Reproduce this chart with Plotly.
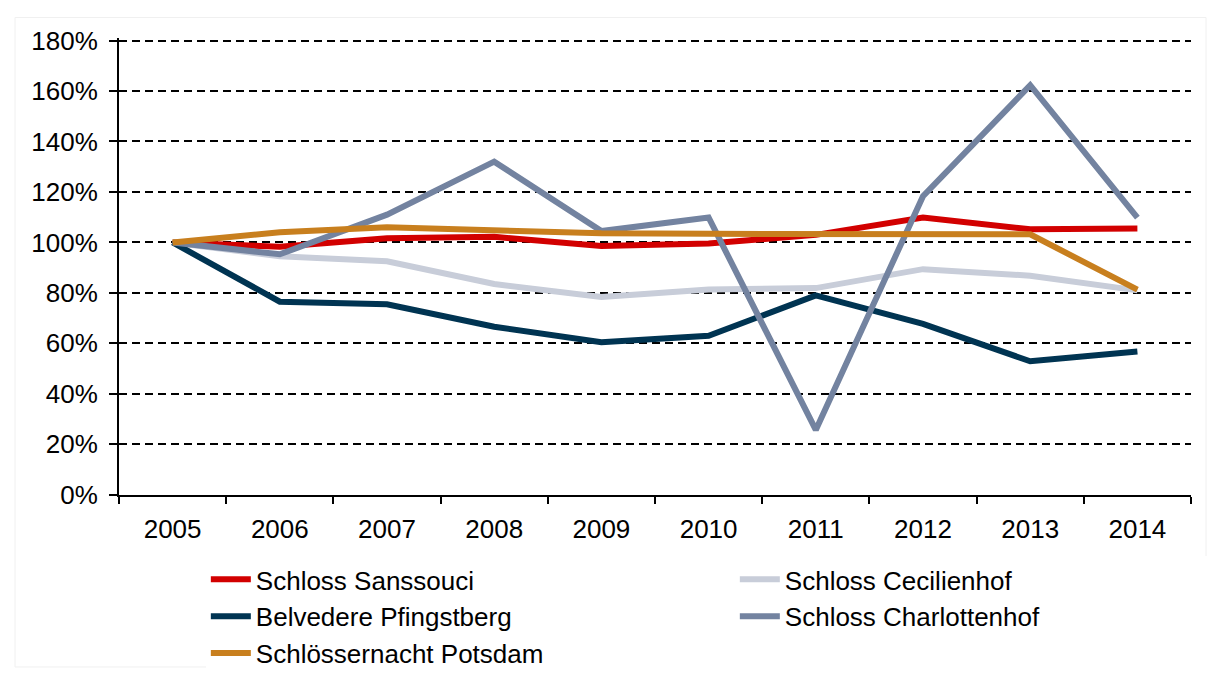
import plotly.graph_objects as go

years = ["2005", "2006", "2007", "2008", "2009", "2010", "2011", "2012", "2013", "2014"]
pct_ticks = [0, 20, 40, 60, 80, 100, 120, 140, 160, 180]

sanssouci = [100, 98.3, 101.6, 102.2, 98.6, 99.6, 103.0, 109.9, 105.2, 105.5]
cecilienhof = [100, 94.5, 92.5, 83.5, 78.4, 81.3, 81.9, 89.4, 86.8, 81.0]
belvedere = [100, 76.5, 75.5, 66.6, 60.4, 63.0, 79.0, 67.7, 52.9, 56.8]
charlottenhof = [100, 95.3, 111.0, 132.0, 104.5, 109.9, 25.7, 118.3, 162.3, 109.8]
schloessernacht = [100, 104.0, 106.0, 104.5, 103.6, 103.4, 103.4, 103.2, 103.2, 81.3]

series = [
    ("Schloss Sanssouci", sanssouci, "#D20000"),
    ("Schloss Cecilienhof", cecilienhof, "#C8CDD9"),
    ("Belvedere Pfingstberg", belvedere, "#003452"),
    ("Schloss Charlottenhof", charlottenhof, "#7383A0"),
    ("Schlössernacht Potsdam", schloessernacht, "#C87F1E"),
]

fig = go.Figure()
for name, vals, col in series:
    fig.add_trace(go.Scatter(x=years, y=vals, name=name, mode="lines",
                             line=dict(color=col, width=6)))

# the html page has an 8px body margin, so the figure is 16px smaller
fig.update_layout(
    width=1199, height=661,
    margin=dict(l=111, r=16, t=30, b=172),
    paper_bgcolor="white", plot_bgcolor="white",
    font=dict(family="Liberation Sans, Arial, sans-serif", size=26, color="black"),
    legend=dict(orientation="h", xref="container", yref="container",
                x=0.165, y=0.171, xanchor="left", yanchor="top",
                entrywidth=474, entrywidthmode="pixels", borderwidth=0,
                font=dict(size=26), itemwidth=40, tracegroupgap=0),
    shapes=[dict(type="rect", xref="paper", yref="paper", x0=-0.097, x1=1.014,
                 y0=-0.377, y1=1.045, line=dict(color="#F0F0F0", width=1))],
)
fig.update_xaxes(type="category", tickson="boundaries", range=[-0.5, 9.5],
                 showline=True, linecolor="black", linewidth=2,
                 ticks="outside", ticklen=7, tickcolor="black", tickwidth=2,
                 showgrid=False, ticklabelstandoff=10)
fig.update_yaxes(range=[0, 181], tickmode="array", tickvals=pct_ticks,
                 ticktext=[f"{v}%" for v in pct_ticks],
                 showline=True, linecolor="black", linewidth=2,
                 ticks="outside", ticklen=8, tickcolor="black", tickwidth=2,
                 showgrid=True, gridcolor="black", gridwidth=1.5, griddash="8px,5px",
                 zeroline=False, ticklabelstandoff=6)

fig.write_html("out.html")
